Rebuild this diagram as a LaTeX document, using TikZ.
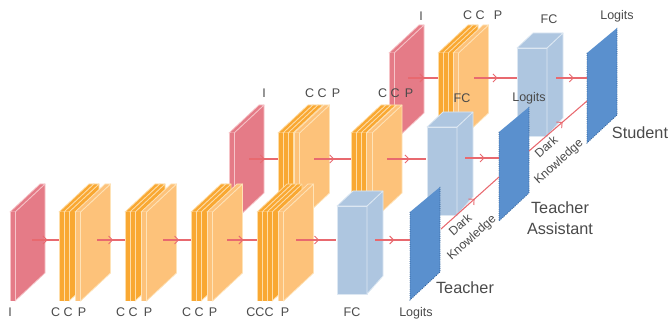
\documentclass[tikz,border=0pt]{standalone}
\usepackage{fontspec}
\setmainfont{Liberation Sans}
\usetikzlibrary{arrows.meta,decorations.markings}
\definecolor{pinkc}{HTML}{E57B87}
\definecolor{pinke}{HTML}{F6C4C8}
\definecolor{conv}{HTML}{F9A832}
\definecolor{conve}{HTML}{FEDDA8}
\definecolor{pool}{HTML}{FDC27A}
\definecolor{poole}{HTML}{FEE3B8}
\definecolor{fcc}{HTML}{AEC6E0}
\definecolor{fce}{HTML}{DCE7F2}
\definecolor{logc}{HTML}{5A90CE}
\definecolor{loge}{HTML}{2F5F96}
\definecolor{flowc}{HTML}{E8696F}
\definecolor{textc}{HTML}{4A4A4A}
% x0,x1 = front strip, y0,y1 = front top/bottom, fill, edge
\newcommand\plate[6]{%
  \filldraw[fill=#5,draw=#6,line width=.55pt,line join=round]
    (#2,#3) -- (#2+30,#3-28) -- (#2+30,#4-28) -- (#2,#4) -- cycle;
  \filldraw[fill=#5,draw=#6,line width=.55pt,line join=round]
    (#1,#3) -- (#1+30,#3-28) -- (#2+30,#3-28) -- (#2,#3) -- cycle;
  \fill[#5] (#1,#3) rectangle (#2,#4);
  \draw[#6,line width=.55pt] (#1,#3) -- (#1,#4) (#2,#3) -- (#2,#4);
}
\newcommand\cplate[3]{\plate{#1}{#1+5}{#2}{#3}{conv}{conve}}
\newcommand\pplate[3]{\plate{#1}{#1+5.5}{#2}{#3}{pool}{poole}}
\newcommand\iplate[3]{\plate{#1}{#1+5}{#2}{#3}{pinkc}{pinke}}
% fc block: x, top, bottom
\newcommand\fcblock[3]{%
  \filldraw[fill=fcc,draw=fce,line width=.6pt,line join=round]
    (#1,#2) -- (#1+30,#2) -- (#1+30,#3) -- (#1,#3) -- cycle;
  \filldraw[fill=fcc,draw=fce,line width=.6pt,line join=round]
    (#1+30,#2) -- (#1+46,#2-15) -- (#1+46,#3-18) -- (#1+30,#3) -- cycle;
  \filldraw[fill=fcc,draw=fce,line width=.6pt,line join=round]
    (#1,#2) -- (#1+16,#2-15) -- (#1+46,#2-15) -- (#1+30,#2) -- cycle;
}
% logits panel: x, top, bottom
\newcommand\logit[3]{%
  \fill[logc] (#1,#2) -- (#1+30,#2-25) -- (#1+30,#3-28) -- (#1,#3) -- cycle;
  \draw[loge,line width=.6pt,densely dotted] (#1,#2) -- (#1,#3) -- (#1+30,#3-28) -- (#1+30,#2-25);
}
\tikzset{
  flow/.style={draw=flowc,line width=.8pt,postaction={decorate},
    decoration={markings,mark=at position #1 with {\arrow{Straight Barb[length=3pt,width=6pt,line width=.7pt]}}}},
  lab/.style={text=textc,font=\fontsize{9.4}{11}\selectfont,inner sep=0pt},
  big/.style={text=textc,font=\fontsize{12.2}{16}\selectfont,inner sep=0pt,align=center},
  dk/.style={text=textc,font=\fontsize{9.2}{11}\selectfont,inner sep=0pt,rotate=42},
}
\begin{document}
\begin{tikzpicture}[x=.75pt,y=-.75pt]
\useasboundingbox (0,0) rectangle (668,324);
% ---------- student row
\iplate{389}{53}{141}
\cplate{438}{53}{141}\cplate{443}{53}{141}\pplate{453}{53}{141}
\fcblock{517}{48}{136}
\logit{587}{53}{143}
\coordinate (s1) at (408,78); \coordinate (s2) at (438,78);
\coordinate (s3) at (474,78); \coordinate (s4) at (517,78);
\coordinate (s5) at (556,78); \coordinate (s6) at (587,78);
\draw[flow=.55] (s1) -- (s2);
\draw[flow=.55] (s3) -- (s4);
\draw[flow=.58] (s5) -- (s6);
% ---------- assistant row
\iplate{229}{133}{221}
\cplate{278}{133}{221}\cplate{283}{133}{221}\cplate{288}{133}{221}\pplate{294}{133}{221}
\cplate{351}{133}{221}\cplate{356}{133}{221}\cplate{361}{133}{221}\pplate{366.5}{133}{221}
\fcblock{427}{127}{215}
\logit{499}{132}{221}
\coordinate (a1) at (249,159); \coordinate (a2) at (278,159);
\coordinate (a3) at (314,159); \coordinate (a4) at (351,159);
\coordinate (a5) at (387,159); \coordinate (a6) at (426,159);
\coordinate (a7) at (465,158); \coordinate (a8) at (499,158);
\coordinate (ds) at (529,151); \coordinate (de) at (587,101);
\draw[flow=.55] (a1) -- (a2);
\draw[flow=.55] (a3) -- (a4);
\draw[flow=.58] (a5) -- (a6);
\draw[flow=.58] (a7) -- (a8);
\draw[flow=.58] (ds) -- (de);
% ---------- teacher row
\iplate{10}{212}{301}
\cplate{59}{212}{301}\cplate{64}{212}{301}\pplate{75}{212}{301}
\cplate{125}{212}{301}\cplate{130}{212}{301}\pplate{141}{212}{301}
\cplate{191}{212}{301}\cplate{196}{212}{301}\pplate{207}{212}{301}
\cplate{257}{212}{301}\cplate{262}{212}{301}\cplate{267}{212}{301}\pplate{278}{212}{301}
\fcblock{337}{206}{294}
\logit{410}{212}{300}
\coordinate (t1) at (32,240); \coordinate (t2) at (59,240);
\coordinate (t3) at (97,240); \coordinate (t4) at (125,240);
\coordinate (t5) at (163,240); \coordinate (t6) at (191,240);
\coordinate (t7) at (227,240); \coordinate (t8) at (257,240);
\coordinate (t9) at (296,240); \coordinate (t10) at (336,240);
\coordinate (t11) at (375,240); \coordinate (t12) at (410,240);
\coordinate (es) at (441,229); \coordinate (ee) at (499,177);
\draw[flow=.58] (t1) -- (t2);
\draw[flow=.58] (t3) -- (t4);
\draw[flow=.58] (t5) -- (t6);
\draw[flow=.55] (t7) -- (t8);
\draw[flow=.58] (t9) -- (t10);
\draw[flow=.55] (t11) -- (t12);
\draw[flow=.58] (es) -- (ee);
% ---------- labels
\node[lab] (l1) at (10,312) {I};
\node[lab] (l2) at (62,312) {C C};
\node[lab] (l3) at (82,312) {P};
\node[lab] (l4) at (127,312) {C C};
\node[lab] (l5) at (148,312) {P};
\node[lab] (l6) at (193,312) {C C};
\node[lab] (l7) at (213,312) {P};
\node[lab] (l8) at (260,312) {CCC};
\node[lab] (l9) at (285,312) {P};
\node[lab] (l10) at (352,312) {FC};
\node[lab] (l11) at (416,313) {Logits};
\node[lab] (m1) at (264,93) {I};
\node[lab] (m2) at (316,93) {C C};
\node[lab] (m3) at (336,93) {P};
\node[lab] (m4) at (389,93) {C C};
\node[lab] (m5) at (409,93) {P};
\node[lab] (m6) at (462,98) {FC};
\node[lab] (m7) at (529,98) {Logits};
\node[lab] (n1) at (421,16) {I};
\node[lab] (n2) at (474,15) {C C};
\node[lab] (n3) at (498,15) {P};
\node[lab] (n4) at (549,19) {FC};
\node[lab] (n5) at (617,16) {Logits};
\node[dk] (k1) at (460,225) {Dark};
\node[dk] (k2) at (472,238) {Knowledge};
\node[dk] (k3) at (546,147) {Dark};
\node[dk] (k4) at (559,162) {Knowledge};
\node[big] (b1) at (465,288) {Teacher};
\node[big] (b2) at (560,218.5) {Teacher\\Assistant};
\node[big] (b3) at (640,133) {Student};
\end{tikzpicture}
\end{document}
